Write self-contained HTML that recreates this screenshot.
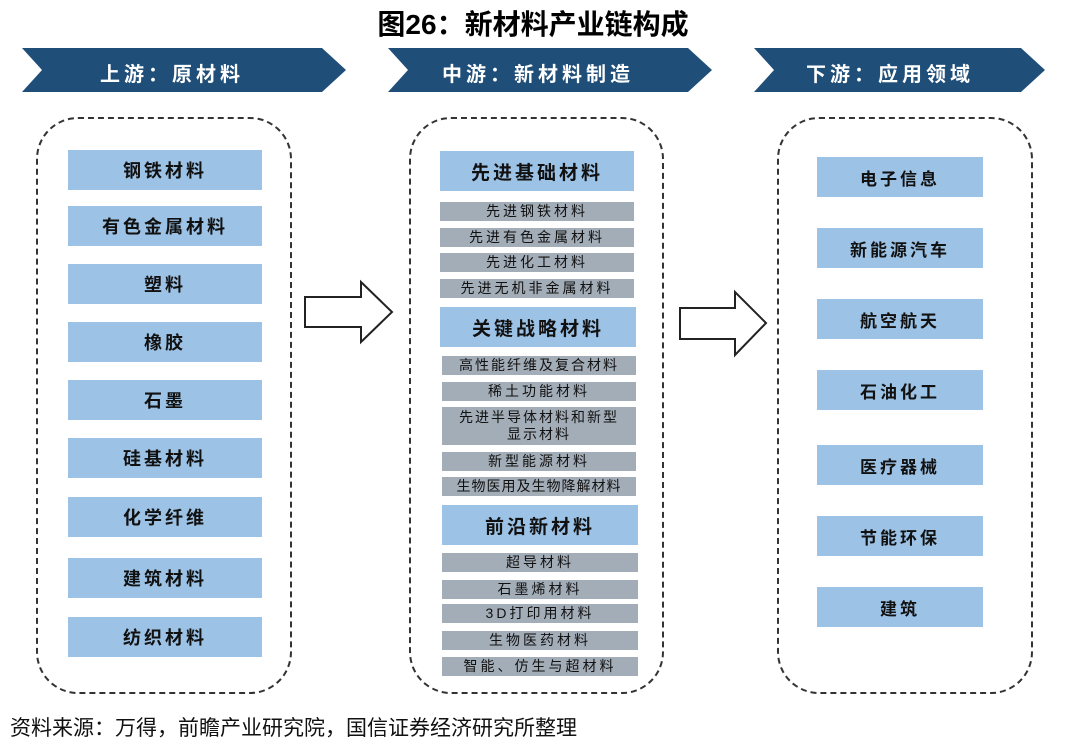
<!DOCTYPE html>
<html><head><meta charset="utf-8"><style>
body{margin:0;width:1066px;height:749px;background:#fff;position:relative;overflow:hidden;font-family:"Liberation Sans","Noto Sans CJK SC",sans-serif;}
.a{position:absolute;box-sizing:border-box;display:flex;align-items:center;justify-content:center;text-align:center;}
.b{background:#9cc2e6;font-weight:bold;font-size:18px;letter-spacing:3px;color:#111;}
.h{background:#9cc2e6;font-weight:bold;font-size:19px;letter-spacing:3px;color:#111;}
.g{background:#a3adb8;font-size:14px;letter-spacing:3px;color:#111;line-height:17px;}
.d{position:absolute;border:2px dashed #333;border-radius:42px;box-sizing:border-box;}
.t{position:absolute;color:#fff;font-weight:bold;font-size:20px;letter-spacing:4px;}
</style></head><body>
<div class="a" style="left:0;top:4px;width:1066px;height:38px;font-size:28px;font-weight:bold;">图26：新材料产业链构成</div>
<svg style="position:absolute;left:0;top:0" width="1066" height="749">
<polygon points="22,48 322,48 346,70 322,92 22,92 42,70" fill="#1f4e79"/>
<polygon points="388,48 688,48 712,70 688,92 388,92 408,70" fill="#1f4e79"/>
<polygon points="754,48 1021,48 1045,70 1021,92 754,92 774,70" fill="#1f4e79"/>
<polygon points="305,297 361,297 361,282 392,312 361,342 361,327 305,327" fill="#fff" stroke="#222" stroke-width="2"/>
<polygon points="680,308 735,308 735,292 766,323 735,355 735,339 680,339" fill="#fff" stroke="#222" stroke-width="2"/>
</svg>
<div class="t" style="left:100px;top:58px;">上游：原材料</div>
<div class="t" style="left:442px;top:58px;">中游：新材料制造</div>
<div class="t" style="left:806px;top:58px;">下游：应用领域</div>
<div class="d" style="left:36px;top:117px;width:256px;height:577px;"></div>
<div class="d" style="left:409px;top:117px;width:255px;height:577px;"></div>
<div class="d" style="left:777px;top:117px;width:256px;height:577px;"></div>
<div class="a b" style="left:68px;top:150px;width:194px;height:40px;">钢铁材料</div>
<div class="a b" style="left:68px;top:206px;width:194px;height:40px;">有色金属材料</div>
<div class="a b" style="left:68px;top:264px;width:194px;height:40px;">塑料</div>
<div class="a b" style="left:68px;top:322px;width:194px;height:40px;">橡胶</div>
<div class="a b" style="left:68px;top:380px;width:194px;height:40px;">石墨</div>
<div class="a b" style="left:68px;top:438px;width:194px;height:40px;">硅基材料</div>
<div class="a b" style="left:68px;top:497px;width:194px;height:40px;">化学纤维</div>
<div class="a b" style="left:68px;top:558px;width:194px;height:40px;">建筑材料</div>
<div class="a b" style="left:68px;top:617px;width:194px;height:40px;">纺织材料</div>
<div class="a h" style="left:440px;top:151px;width:194px;height:40px;">先进基础材料</div>
<div class="a g" style="left:440px;top:202px;width:194px;height:19px;">先进钢铁材料</div>
<div class="a g" style="left:440px;top:228px;width:194px;height:19px;">先进有色金属材料</div>
<div class="a g" style="left:440px;top:253px;width:194px;height:19px;">先进化工材料</div>
<div class="a g" style="left:440px;top:279px;width:194px;height:19px;">先进无机非金属材料</div>
<div class="a h" style="left:440px;top:307px;width:196px;height:40px;">关键战略材料</div>
<div class="a g" style="left:442px;top:356px;width:194px;height:19px;letter-spacing:2px;">高性能纤维及复合材料</div>
<div class="a g" style="left:442px;top:382px;width:194px;height:19px;">稀土功能材料</div>
<div class="a g" style="left:442px;top:407px;width:194px;height:38px;letter-spacing:2px;">先进半导体材料和新型<br>显示材料</div>
<div class="a g" style="left:442px;top:452px;width:194px;height:19px;">新型能源材料</div>
<div class="a g" style="left:442px;top:477px;width:194px;height:19px;letter-spacing:1px;">生物医用及生物降解材料</div>
<div class="a h" style="left:442px;top:505px;width:196px;height:40px;">前沿新材料</div>
<div class="a g" style="left:442px;top:553px;width:196px;height:19px;">超导材料</div>
<div class="a g" style="left:442px;top:580px;width:196px;height:19px;">石墨烯材料</div>
<div class="a g" style="left:442px;top:604px;width:196px;height:19px;">3D打印用材料</div>
<div class="a g" style="left:442px;top:631px;width:196px;height:19px;">生物医药材料</div>
<div class="a g" style="left:442px;top:657px;width:196px;height:19px;">智能、仿生与超材料</div>
<div class="a b" style="left:817px;top:157px;width:166px;height:40px;font-size:17px;">电子信息</div>
<div class="a b" style="left:817px;top:228px;width:166px;height:40px;font-size:17px;">新能源汽车</div>
<div class="a b" style="left:817px;top:299px;width:166px;height:40px;font-size:17px;">航空航天</div>
<div class="a b" style="left:817px;top:370px;width:166px;height:40px;font-size:17px;">石油化工</div>
<div class="a b" style="left:817px;top:445px;width:166px;height:40px;font-size:17px;">医疗器械</div>
<div class="a b" style="left:817px;top:516px;width:166px;height:40px;font-size:17px;">节能环保</div>
<div class="a b" style="left:817px;top:587px;width:166px;height:40px;font-size:17px;">建筑</div>
<div style="position:absolute;left:10px;top:712px;font-size:21px;color:#111;">资料来源：万得，前瞻产业研究院，国信证券经济研究所整理</div>
</body></html>
